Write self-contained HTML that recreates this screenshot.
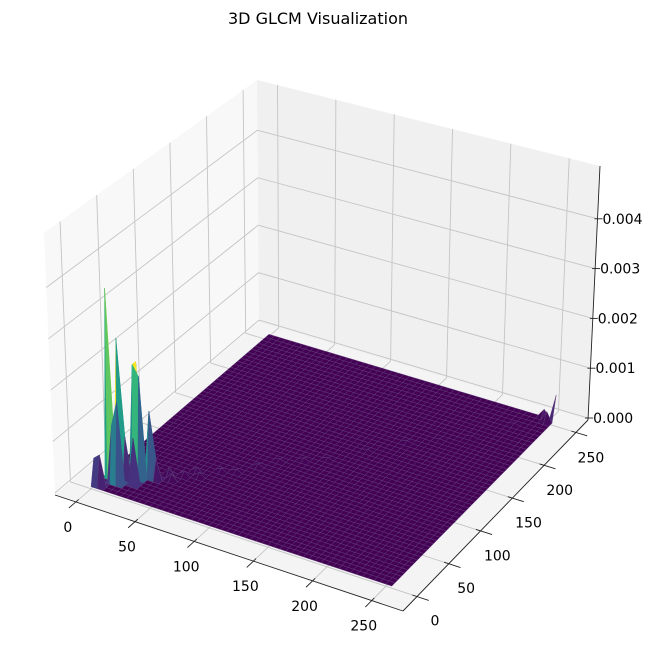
<!DOCTYPE html>
<html><head><meta charset="utf-8">
<style>
html,body{margin:0;padding:0;background:#fff;}
svg{display:block;font-family:"DejaVu Sans","Liberation Sans",sans-serif;}
</style></head>
<body>
<svg id="chart" width="651" height="658" viewBox="0 0 651 658" xmlns="http://www.w3.org/2000/svg">
  <text x="318" y="24" text-anchor="middle" font-size="16" fill="#000">3D GLCM Visualization</text>
  <g id="panes"></g>
  <g id="grid"></g>
  <g id="surface"></g>
  <g id="axes"></g>
</svg>
<script>
// ---- data ----
const xTicks = [0, 50, 100, 150, 200, 250];
const yTicks = [0, 50, 100, 150, 200, 250];
const zTicks = [0, 0.001, 0.002, 0.003, 0.004];
const zTickLabels = ["0.000", "0.001", "0.002", "0.003", "0.004"];
// GLCM peaks: gray level i, gray level j, probability
const peakX = [5, 10, 20, 25, 20, 30, 10, 15, 25, 5, 35, 15, 0, 255, 250, 245];
const peakY = [20, 25, 30, 30, 35, 35, 15, 15, 20, 5, 35, 25, 5, 255, 250, 255];
const peakZ = [0.0037, 0.0027, 0.0022, 0.0020, 0.0022, 0.0013, 0.0011, 0.0016, 0.0009, 0.0006, 0.0004, 0.0008, 0.0005, 0.0005, 0.0002, 0.00015];
// faint diagonal co-occurrence streak
const diagX = [40, 45, 50, 55, 60, 70, 80, 90, 100, 115, 130, 150, 170, 190, 210, 230];
const diagY = [45, 40, 50, 60, 55, 70, 75, 90, 105, 115, 125, 150, 175, 190, 205, 235];
const diagZ = [0.00015, 0.00012, 0.0001, 0.00009, 0.00008, 0.00006, 0.00005, 0.00005, 0.00004, 0.00004, 0.00003, 0.00003, 0.00003, 0.00002, 0.00002, 0.00003];

// ---- projection ----
const xlo = -17.6, xhi = 276.4, ylo = -22, yhi = 269, zlo = -0.00004, zhi = 0.00506;
const FL = [55, 495], FF = [403, 611], FR = [588, 420], FB = [259, 322];
const TL = [44, 233], TF = [405, 338], TR = [600, 166], TB = [257, 80];
function bil(c00, c10, c11, c01, u, v) {
  return [
    c00[0]*(1-u)*(1-v) + c10[0]*u*(1-v) + c11[0]*u*v + c01[0]*(1-u)*v,
    c00[1]*(1-u)*(1-v) + c10[1]*u*(1-v) + c11[1]*u*v + c01[1]*(1-u)*v
  ];
}
function pt(x, y, z) {
  const u = (x - xlo) / (xhi - xlo), v = (y - ylo) / (yhi - ylo), w = (z - zlo) / (zhi - zlo);
  const a = bil(FL, FF, FR, FB, u, v), b = bil(TL, TF, TR, TB, u, v);
  return [a[0] + (b[0]-a[0])*w, a[1] + (b[1]-a[1])*w];
}
const NS = "http://www.w3.org/2000/svg";
function mk(tag, attrs, parent) {
  const e = document.createElementNS(NS, tag);
  for (const k in attrs) e.setAttribute(k, attrs[k]);
  parent.appendChild(e); return e;
}
function poly(ps) { return ps.map(p => p[0].toFixed(2) + "," + p[1].toFixed(2)).join(" "); }

// panes
const panes = document.getElementById("panes");
let e;
e = mk("polygon", {points: poly([pt(xlo,ylo,zlo), pt(xhi,ylo,zlo), pt(xhi,yhi,zlo), pt(xlo,yhi,zlo)]), fill: "#f4f4f4"}, panes);


e = mk("polygon", {points: poly([pt(xlo,ylo,zlo), pt(xlo,yhi,zlo), pt(xlo,yhi,zhi), pt(xlo,ylo,zhi)]), fill: "#f8f8f8"}, panes);


e = mk("polygon", {points: poly([pt(xlo,yhi,zlo), pt(xhi,yhi,zlo), pt(xhi,yhi,zhi), pt(xlo,yhi,zhi)]), fill: "#f0f0f0"}, panes);



// gridlines
const grid = document.getElementById("grid");
function gl(a, b, name) {
  const l = mk("line", {x1: a[0], y1: a[1], x2: b[0], y2: b[1], stroke: "#c4c4c4", "stroke-width": 0.9}, grid);
  
  
}
xTicks.forEach(x => { gl(pt(x,ylo,zlo), pt(x,yhi,zlo), 'x-gridline'); gl(pt(x,yhi,zlo), pt(x,yhi,zhi), 'x-gridline'); });
yTicks.forEach(y => { gl(pt(xlo,y,zlo), pt(xhi,y,zlo), 'y-gridline'); gl(pt(xlo,y,zlo), pt(xlo,y,zhi), 'y-gridline'); });
zTicks.forEach(z => { gl(pt(xlo,ylo,z), pt(xlo,yhi,z), 'z-gridline'); gl(pt(xlo,yhi,z), pt(xhi,yhi,z), 'z-gridline'); });

// surface grid
const STEP = 5, N = 52;
const Z = [];
for (let i = 0; i < N; i++) { Z.push(new Array(N).fill(0)); }
peakX.forEach((x, k) => { Z[Math.round(x/STEP)][Math.round(peakY[k]/STEP)] = peakZ[k]; });
diagX.forEach((x, k) => { Z[Math.round(x/STEP)][Math.round(diagY[k]/STEP)] = diagZ[k]; });
const gv = i => Math.min(i*STEP, 255);

const VIR = [[68,1,84],[72,40,120],[62,74,137],[49,104,142],[38,130,142],[31,158,137],[53,183,121],[109,205,89],[180,222,44],[253,231,37]];
function viridis(t) {
  t = Math.max(0, Math.min(1, t)) * (VIR.length - 1);
  const i = Math.min(Math.floor(t), VIR.length - 2), f = t - i;
  const c = VIR[i].map((v, k) => Math.round(v + (VIR[i+1][k] - v) * f));
  return "rgb(" + c.join(",") + ")";
}
const faces = [];
let maxMean = 0;
for (let i = 0; i < N-1; i++) for (let j = 0; j < N-1; j++) {
  const m = (Z[i][j] + Z[i+1][j] + Z[i+1][j+1] + Z[i][j+1]) / 4;
  if (m > maxMean) maxMean = m;
  faces.push({i, j, m});
}
faces.sort((a, b) => (a.i - a.j) - (b.i - b.j) || (a.i + a.j) - (b.i + b.j));
const surf = document.getElementById("surface");
faces.forEach(f => {
  const {i, j} = f;
  const ps = [pt(gv(i), gv(j), Z[i][j]), pt(gv(i+1), gv(j), Z[i+1][j]), pt(gv(i+1), gv(j+1), Z[i+1][j+1]), pt(gv(i), gv(j+1), Z[i][j+1])];
  const col = viridis(f.m / maxMean);
  const p = mk("polygon", {points: poly(ps), fill: col, stroke: f.m > 0.0002 ? col : "#603f7a", "stroke-width": 0.45}, surf);
  
  
});

// axes
const axes = document.getElementById("axes");
function al(a, b, name) {
  const l = mk("line", {x1: a[0], y1: a[1], x2: b[0], y2: b[1], stroke: "#222", "stroke-width": 0.9}, axes);
  
  
}
function tx(x, y, s, anchor, name) {
  const t = mk("text", {x: x, y: y, "font-size": 14, fill: "#000", "text-anchor": anchor}, axes);
  t.textContent = s;
  
  
}
al(pt(xlo,ylo,zlo), pt(xhi,ylo,zlo), 'x-axis-line');
al(pt(xhi,ylo,zlo), pt(xhi,yhi,zlo), 'y-axis-line');
al(pt(xhi,yhi,zlo), pt(xhi,yhi,zhi), 'z-axis-line');
xTicks.forEach(x => {
  al(pt(x, ylo+4, zlo), pt(x, ylo-10, zlo), 'x-tick');
  const p = pt(x, ylo, zlo);
  tx(p[0] - 8, p[1] + 30, String(x), "middle", 'x-tick-label');
});
yTicks.forEach(y => {
  al(pt(xhi-4, y, zlo), pt(xhi+10, y, zlo), 'y-tick');
  const v = (y - ylo) / (yhi - ylo), f = (v - 0.076) / 0.86, p = pt(xhi, y, zlo);
  tx(p[0] + 18 - 3*f, p[1] + 29 + f, String(y), "middle", 'y-tick-label');
});
zTicks.forEach((z, k) => {
  const p = pt(xhi, yhi, z);
  al([p[0]-3, p[1]], [p[0]+5, p[1]], 'z-tick');
  tx(p[0] + 5, p[1] + 5, zTickLabels[k], "start", 'z-tick-label');
});
</script>
</body></html>
